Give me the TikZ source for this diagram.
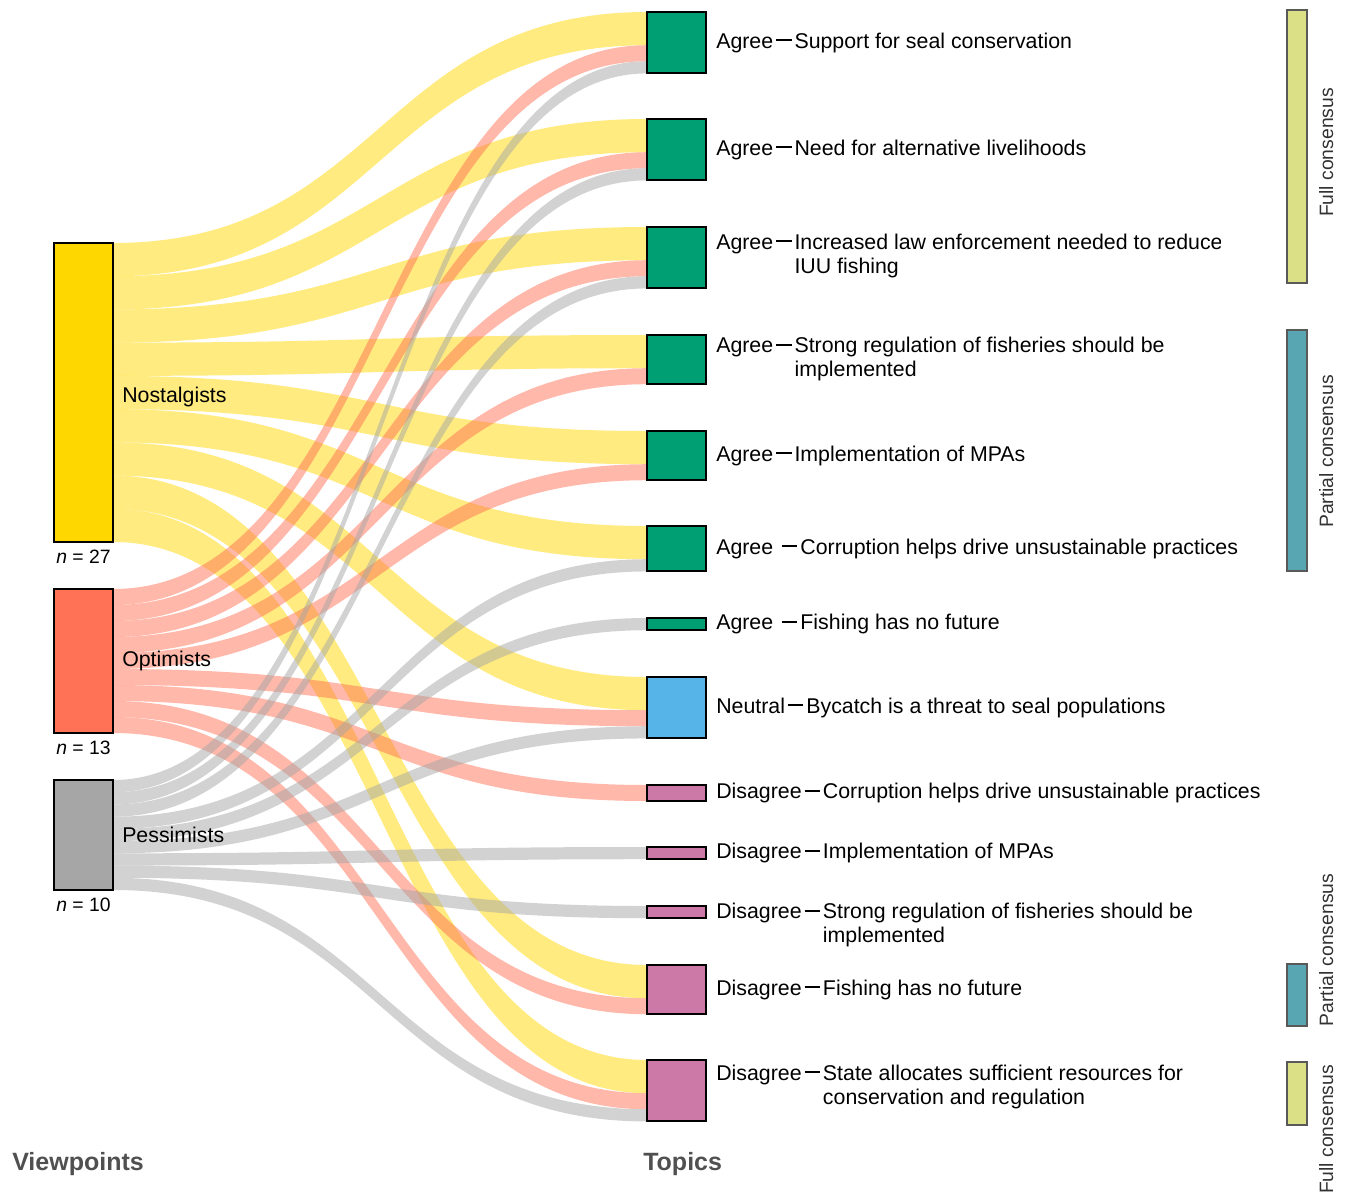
\documentclass[tikz,border=0pt]{standalone}
\usepackage{fontspec}
\setmainfont{Liberation Sans}
\definecolor{nostgold}{RGB}{255, 215, 0}
\definecolor{optcoral}{RGB}{255, 114, 86}
\definecolor{pessgrey}{RGB}{166, 166, 166}
\definecolor{agreegreen}{RGB}{0, 158, 115}
\definecolor{neutralblue}{RGB}{86, 180, 233}
\definecolor{disagreepink}{RGB}{204, 121, 167}
\definecolor{fullcons}{RGB}{219, 224, 135}
\definecolor{partcons}{RGB}{87, 166, 177}
\definecolor{titlegrey}{RGB}{80, 80, 80}
\usetikzlibrary{positioning, calc, backgrounds}

\newcommand{\tdash}{\kern0.14em\rule[0.32em]{0.72em}{0.09em}\kern0.14em}
% band from a viewpoint node to a topic node: src, src offset, dst, dst offset, width, colour
\newcommand{\band}[6]{%
  \fill[#6, fill opacity=0.5] ($(#1.north east)+(0,#2)$) .. controls +(267,0) and +(-267,0) .. ($(#3.north west)+(0,#4)$)
    -- ($(#3.north west)+(0,#4+#5)$) .. controls +(-267,0) and +(267,0) .. ($(#1.north east)+(0,#2+#5)$) -- cycle;}

\begin{document}
\begin{tikzpicture}[x=0.75pt, y=-0.75pt,
  catbox/.style={draw=black, line width=1.5pt, inner sep=0, outer sep=0, minimum width=44.25pt, anchor=north west},
  tall/.style={minimum height=#1*0.75pt},
  consbar/.style={draw=black!65, line width=0.8pt, inner sep=0, outer sep=0, minimum width=15pt, anchor=north west},
  glabel/.style={inner sep=0, font=\fontsize{16}{18}\selectfont},
  tlabel/.style={inner sep=0, align=left, font=\fontsize{16}{18}\selectfont},
  nlabel/.style={inner sep=0, font=\fontsize{14.5}{17}\selectfont},
  conslabel/.style={inner sep=0, rotate=90, anchor=base, text=black!80, font=\fontsize{14.5}{17}\selectfont},
  axistitle/.style={inner sep=0, anchor=base west, text=titlegrey, font=\fontsize{18.75}{22}\selectfont\bfseries}]
  \useasboundingbox (0,0) rectangle (1349,1196);

  % Viewpoints
  \node[catbox, tall=298.98, fill=nostgold] (nos) at (54,243) {};
  \node[catbox, tall=144, fill=optcoral] (opt) at (54,589) {};
  \node[catbox, tall=110, fill=pessgrey] (pes) at (54,780) {};

  \node[glabel, right=6.75pt of nos, yshift=-3pt] (nosl) {Nostalgists};
  \node[glabel, right=6.75pt of opt] (optl) {Optimists};
  \node[glabel, right=6.75pt of pes] (pesl) {Pessimists};

  \node[nlabel, below=6pt of nos] (nosn) {\textit{n} = 27};
  \node[nlabel, below=6pt of opt] (optn) {\textit{n} = 13};
  \node[nlabel, below=6pt of pes] (pesn) {\textit{n} = 10};

  % Topics
  \node[catbox, tall=61.44, fill=agreegreen] (t1) at (647,12) {};
  \node[catbox, tall=61.44, fill=agreegreen] (t2) at (647,119) {};
  \node[catbox, tall=61.44, fill=agreegreen] (t3) at (647,227) {};
  \node[catbox, tall=49.22, fill=agreegreen] (t4) at (647,335) {};
  \node[catbox, tall=49.22, fill=agreegreen] (t5) at (647,431) {};
  \node[catbox, tall=45.44, fill=agreegreen] (t6) at (647,526) {};
  \node[catbox, tall=12.22, fill=agreegreen] (t7) at (647,618) {};
  \node[catbox, tall=61.44, fill=neutralblue] (t8) at (647,677) {};
  \node[catbox, tall=16, fill=disagreepink] (t9) at (647,785) {};
  \node[catbox, tall=12.22, fill=disagreepink] (t10) at (647,847) {};
  \node[catbox, tall=12.22, fill=disagreepink] (t11) at (647,906) {};
  \node[catbox, tall=49.22, fill=disagreepink] (t12) at (647,965) {};
  \node[catbox, tall=61.44, fill=disagreepink] (t13) at (647,1060) {};

  \node[tlabel, right=7.5pt of t1] (l1) {Agree\tdash Support for seal conservation};
  \node[tlabel, right=7.5pt of t2] (l2) {Agree\tdash Need for alternative livelihoods};
  \begin{scope}
    \clip (0,0) rectangle (1220,1196);
    \node[tlabel, right=7.5pt of t3, yshift=1pt] (l3) {\begin{tabular}{@{}l@{}l@{}}Agree\tdash & Increased law enforcement needed to reduce\\ & IUU fishing\end{tabular}};
  \end{scope}
  \node[tlabel, right=7.5pt of t4] (l4) {\begin{tabular}{@{}l@{}l@{}}Agree\tdash & Strong regulation of fisheries should be\\ & implemented\end{tabular}};
  \node[tlabel, right=7.5pt of t5] (l5) {Agree\tdash Implementation of MPAs};
  \node[tlabel, right=7.5pt of t6] (l6) {Agree \tdash Corruption helps drive unsustainable practices};
  \node[tlabel, right=7.5pt of t7] (l7) {Agree \tdash Fishing has no future};
  \node[tlabel, right=7.5pt of t8] (l8) {Neutral\tdash Bycatch is a threat to seal populations};
  \node[tlabel, right=7.5pt of t9] (l9) {Disagree\tdash Corruption helps drive unsustainable practices};
  \node[tlabel, right=7.5pt of t10] (l10) {Disagree\tdash Implementation of MPAs};
  \node[tlabel, right=7.5pt of t11, yshift=-10.5pt] (l11) {\begin{tabular}{@{}l@{}l@{}}Disagree\tdash & Strong regulation of fisheries should be\\ & implemented\end{tabular}};
  \node[tlabel, right=7.5pt of t12] (l12) {Disagree\tdash Fishing has no future};
  \node[tlabel, right=7.5pt of t13, yshift=2.6pt] (l13) {\begin{tabular}{@{}l@{}l@{}}Disagree\tdash & State allocates sufficient resources for\\ & conservation and regulation\end{tabular}};

  % Flows
  \begin{scope}[on background layer]
    \band{nos}{0}{t1}{0}{33.22}{nostgold}
    \band{nos}{33.22}{t2}{0}{33.22}{nostgold}
    \band{nos}{66.44}{t3}{0}{33.22}{nostgold}
    \band{nos}{99.66}{t4}{0}{33.22}{nostgold}
    \band{nos}{132.88}{t5}{0}{33.22}{nostgold}
    \band{nos}{166.1}{t6}{0}{33.22}{nostgold}
    \band{nos}{199.32}{t8}{0}{33.22}{nostgold}
    \band{nos}{232.54}{t12}{0}{33.22}{nostgold}
    \band{nos}{265.76}{t13}{0}{33.22}{nostgold}

    \band{opt}{0}{t1}{33.22}{16}{optcoral}
    \band{opt}{16}{t2}{33.22}{16}{optcoral}
    \band{opt}{32}{t3}{33.22}{16}{optcoral}
    \band{opt}{48}{t4}{33.22}{16}{optcoral}
    \band{opt}{64}{t5}{33.22}{16}{optcoral}
    \band{opt}{80}{t8}{33.22}{16}{optcoral}
    \band{opt}{96}{t9}{0}{16}{optcoral}
    \band{opt}{112}{t12}{33.22}{16}{optcoral}
    \band{opt}{128}{t13}{33.22}{16}{optcoral}

    \band{pes}{0}{t1}{49.22}{12.22}{pessgrey}
    \band{pes}{12.22}{t2}{49.22}{12.22}{pessgrey}
    \band{pes}{24.44}{t3}{49.22}{12.22}{pessgrey}
    \band{pes}{36.66}{t6}{33.22}{12.22}{pessgrey}
    \band{pes}{48.88}{t7}{0}{12.22}{pessgrey}
    \band{pes}{61.1}{t8}{49.22}{12.22}{pessgrey}
    \band{pes}{73.32}{t10}{0}{12.22}{pessgrey}
    \band{pes}{85.54}{t11}{0}{12.22}{pessgrey}
    \band{pes}{97.76}{t13}{49.22}{12.22}{pessgrey}
  \end{scope}

  % Consensus bars
  \node[consbar, tall=273, fill=fullcons] (fc1) at (1287,10) {};
  \node[consbar, tall=241, fill=partcons] (pc1) at (1287,330) {};
  \node[consbar, tall=62, fill=partcons] (pc2) at (1287,964) {};
  \node[consbar, tall=63, fill=fullcons] (fc2) at (1287,1062) {};

  \node[conslabel] (fc1l) at (1333,152.5) {Full consensus};
  \node[conslabel] (pc1l) at (1333,451.5) {Partial consensus};
  \node[conslabel] (pc2l) at (1333,950) {Partial consensus};
  \node[conslabel] (fc2l) at (1333,1129.5) {Full consensus};

  % Axis titles
  \node[axistitle] (vptitle) at (12,1170) {Viewpoints};
  \node[axistitle] (tptitle) at (643,1170) {Topics};
\end{tikzpicture}
\end{document}
